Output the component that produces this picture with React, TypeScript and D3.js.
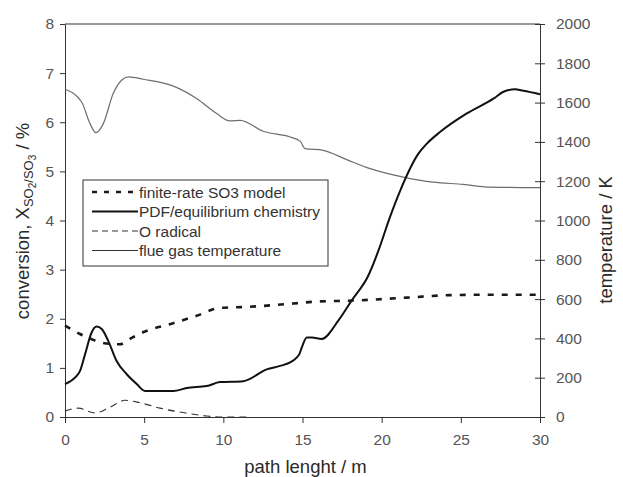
import React, { useEffect, useRef } from "react";
import * as d3 from "d3";

// path length (m) / value pairs
const finiteRate: [number, number][] = [
  [0, 1.86], [0.95, 1.69], [1.79, 1.57], [2.2, 1.52], [3.47, 1.48], [4.21, 1.61],
  [5.05, 1.74], [6.63, 1.89], [8.31, 2.06], [9.79, 2.22], [11.47, 2.24], [14.42, 2.31],
  [15.9, 2.35], [18.2, 2.37], [21.58, 2.43], [24.32, 2.48], [27.47, 2.49], [30, 2.49],
];

const pdfEquilibrium: [number, number][] = [
  [0, 0.67], [0.63, 0.8], [0.95, 0.94], [1.27, 1.28], [1.68, 1.72], [2.0, 1.84],
  [2.32, 1.79], [2.73, 1.55], [3.26, 1.14], [3.9, 0.87], [4.53, 0.67], [5.05, 0.53],
  [6.85, 0.53], [7.69, 0.59], [8.95, 0.63], [9.79, 0.71], [11.26, 0.73], [12.74, 0.97],
  [13.58, 1.04], [14.22, 1.11], [14.63, 1.21], [14.8, 1.28], [14.95, 1.41], [15.27, 1.62],
  [15.59, 1.62], [16.21, 1.59], [17.26, 1.96], [18.1, 2.37], [19.16, 2.88], [19.8, 3.39],
  [20.5, 4.05], [21.16, 4.6], [22.32, 5.36], [22.84, 5.56], [23.68, 5.8], [25.38, 6.18],
  [27.06, 6.48], [27.69, 6.62], [28.42, 6.67], [28.95, 6.64], [30, 6.57],
];

const oRadical: [number, number][] = [
  [0, 0.12], [0.84, 0.18], [1.89, 0.08], [2.84, 0.2], [3.79, 0.34], [4.74, 0.29],
  [6.0, 0.18], [7.47, 0.09], [8.95, 0.02], [10.2, 0], [11.57, 0],
];

// temperature in K (right axis)
const flueGasTemp: [number, number][] = [
  [0, 1668], [1.05, 1603], [1.58, 1493], [1.95, 1447], [2.42, 1493], [3.05, 1647],
  [3.57, 1714], [4.0, 1731], [4.94, 1719], [6.85, 1684], [8.31, 1621], [9.58, 1544],
  [10.42, 1507], [11.06, 1510], [12.53, 1454], [14.22, 1425], [14.85, 1404], [15.16, 1366],
  [16.31, 1357], [17.79, 1310], [19.27, 1264], [21.37, 1221], [23.26, 1195], [25.16, 1184],
  [26.83, 1170], [30, 1167],
];

const xTicks = [0, 5, 10, 15, 20, 25, 30];
const leftTicks = [0, 1, 2, 3, 4, 5, 6, 7, 8];
const rightTicks = [0, 200, 400, 600, 800, 1000, 1200, 1400, 1600, 1800, 2000];

const legendItems = [
  "finite-rate SO3 model",
  "PDF/equilibrium chemistry",
  "O radical",
  "flue gas temperature",
];

export default function App() {
  const svgRef = useRef<SVGSVGElement>(null);

  useEffect(() => {
    const w = 623;
    const h = 477;
    const left = 65, right = 540, top = 24, bottom = 417;
    const font = "'Liberation Sans', Arial, sans-serif";
    const axisColor = "#333";
    const textColor = "#555";
    const titleColor = "#2a2a2a";

    const svg = d3.select(svgRef.current);
    svg.selectAll("*").remove();
    svg.attr("width", w).attr("height", h).style("background", "#fff");

    const x = d3.scaleLinear().domain([0, 30]).range([left, right]);
    const yL = d3.scaleLinear().domain([0, 8]).range([bottom, top]);
    const yR = d3.scaleLinear().domain([0, 2000]).range([bottom, top]);

    // frame: top line
    svg.append("line")
      .attr("x1", left).attr("x2", right).attr("y1", top).attr("y2", top)
      .attr("stroke", axisColor);

    // left axis
    const gl = svg.append("g")
      .attr("transform", `translate(${left},0)`)
      .call(d3.axisLeft(yL).tickValues(leftTicks).tickSize(5).tickPadding(6).tickSizeOuter(0));
    // right axis
    const gr = svg.append("g")
      .attr("transform", `translate(${right},0)`)
      .call(d3.axisRight(yR).tickValues(rightTicks).tickFormat(d3.format("d"))
        .tickSize(5).tickPadding(11).tickSizeOuter(0));
    gr.selectAll(".tick line").attr("x1", -5);
    // bottom axis
    const gb = svg.append("g")
      .attr("transform", `translate(0,${bottom})`)
      .call(d3.axisBottom(x).tickValues(xTicks).tickSize(6).tickPadding(11).tickSizeOuter(0));

    [gl, gr, gb].forEach((g) => {
      g.select(".domain").attr("stroke", axisColor);
      g.selectAll(".tick line").attr("stroke", axisColor);
      g.selectAll("text")
        .attr("fill", textColor)
        .style("font-family", font)
        .style("font-size", "15.5px");
    });

    const line = d3.line<[number, number]>()
      .x((d) => x(d[0]))
      .y((d) => yL(d[1]))
      .curve(d3.curveMonotoneX);

    const lineT = d3.line<[number, number]>()
      .x((d) => x(d[0]))
      .y((d) => yR(d[1]))
      .curve(d3.curveMonotoneX);

    svg.append("path")
      .datum(flueGasTemp)
      .attr("d", lineT)
      .attr("fill", "none")
      .attr("stroke", "#6e6e6e")
      .attr("stroke-width", 1.2);

    svg.append("path")
      .datum(oRadical)
      .attr("d", line)
      .attr("fill", "none")
      .attr("stroke", "#333")
      .attr("stroke-width", 1.1)
      .attr("stroke-dasharray", "7,5");

    svg.append("path")
      .datum(pdfEquilibrium)
      .attr("d", line)
      .attr("fill", "none")
      .attr("stroke", "#111")
      .attr("stroke-width", 2);

    svg.append("path")
      .datum(finiteRate)
      .attr("d", line)
      .attr("fill", "none")
      .attr("stroke", "#1a1a1a")
      .attr("stroke-width", 2.6)
      .attr("stroke-dasharray", "6,8");

    // legend
    const legend = svg.append("g");
    legend.append("rect")
      .attr("x", 83).attr("y", 180).attr("width", 245).attr("height", 86)
      .attr("fill", "#fff").attr("stroke", "#333");

    const styles = [
      { dash: "5,7", width: 2.6, color: "#1a1a1a" },
      { dash: null, width: 2, color: "#111" },
      { dash: "6,4", width: 1.1, color: "#333" },
      { dash: null, width: 1.2, color: "#333" },
    ];
    const rowY = [192, 211.5, 231, 250.5];

    legendItems.forEach((label, i) => {
      const s = styles[i];
      const ln = legend.append("line")
        .attr("x1", 92).attr("x2", 138)
        .attr("y1", rowY[i]).attr("y2", rowY[i])
        .attr("stroke", s.color)
        .attr("stroke-width", s.width);
      if (s.dash) ln.attr("stroke-dasharray", s.dash);
      legend.append("text")
        .attr("x", 139)
        .attr("y", rowY[i] + 5.5)
        .attr("fill", "#333")
        .style("font-family", font)
        .style("font-size", "15.5px")
        .text(label);
    });

    // axis titles
    svg.append("text")
      .attr("x", (left + right) / 2 + 3)
      .attr("y", 473)
      .attr("text-anchor", "middle")
      .attr("fill", titleColor)
      .style("font-family", font)
      .style("font-size", "18.5px")
      .text("path lenght / m");

    const lt = svg.append("text")
      .attr("transform", "translate(29,221) rotate(-90)")
      .attr("text-anchor", "middle")
      .attr("fill", titleColor)
      .style("font-family", font)
      .style("font-size", "18.5px");
    lt.append("tspan").text("conversion, X");
    lt.append("tspan").attr("dy", 4).style("font-size", "13px").text("SO");
    lt.append("tspan").attr("dy", 3).style("font-size", "10px").text("2");
    lt.append("tspan").attr("dy", -3).style("font-size", "13px").text("/SO");
    lt.append("tspan").attr("dy", 3).style("font-size", "10px").text("3");
    lt.append("tspan").attr("dy", -7).text(" / %");

    svg.append("text")
      .attr("transform", "translate(612,240) rotate(-90)")
      .attr("text-anchor", "middle")
      .attr("fill", titleColor)
      .style("font-family", font)
      .style("font-size", "18.5px")
      .text("temperature / K");
  }, []);

  return (
    <div style={{ position: "absolute", left: 0, top: 0 }}>
      <svg ref={svgRef}></svg>
    </div>
  );
}
